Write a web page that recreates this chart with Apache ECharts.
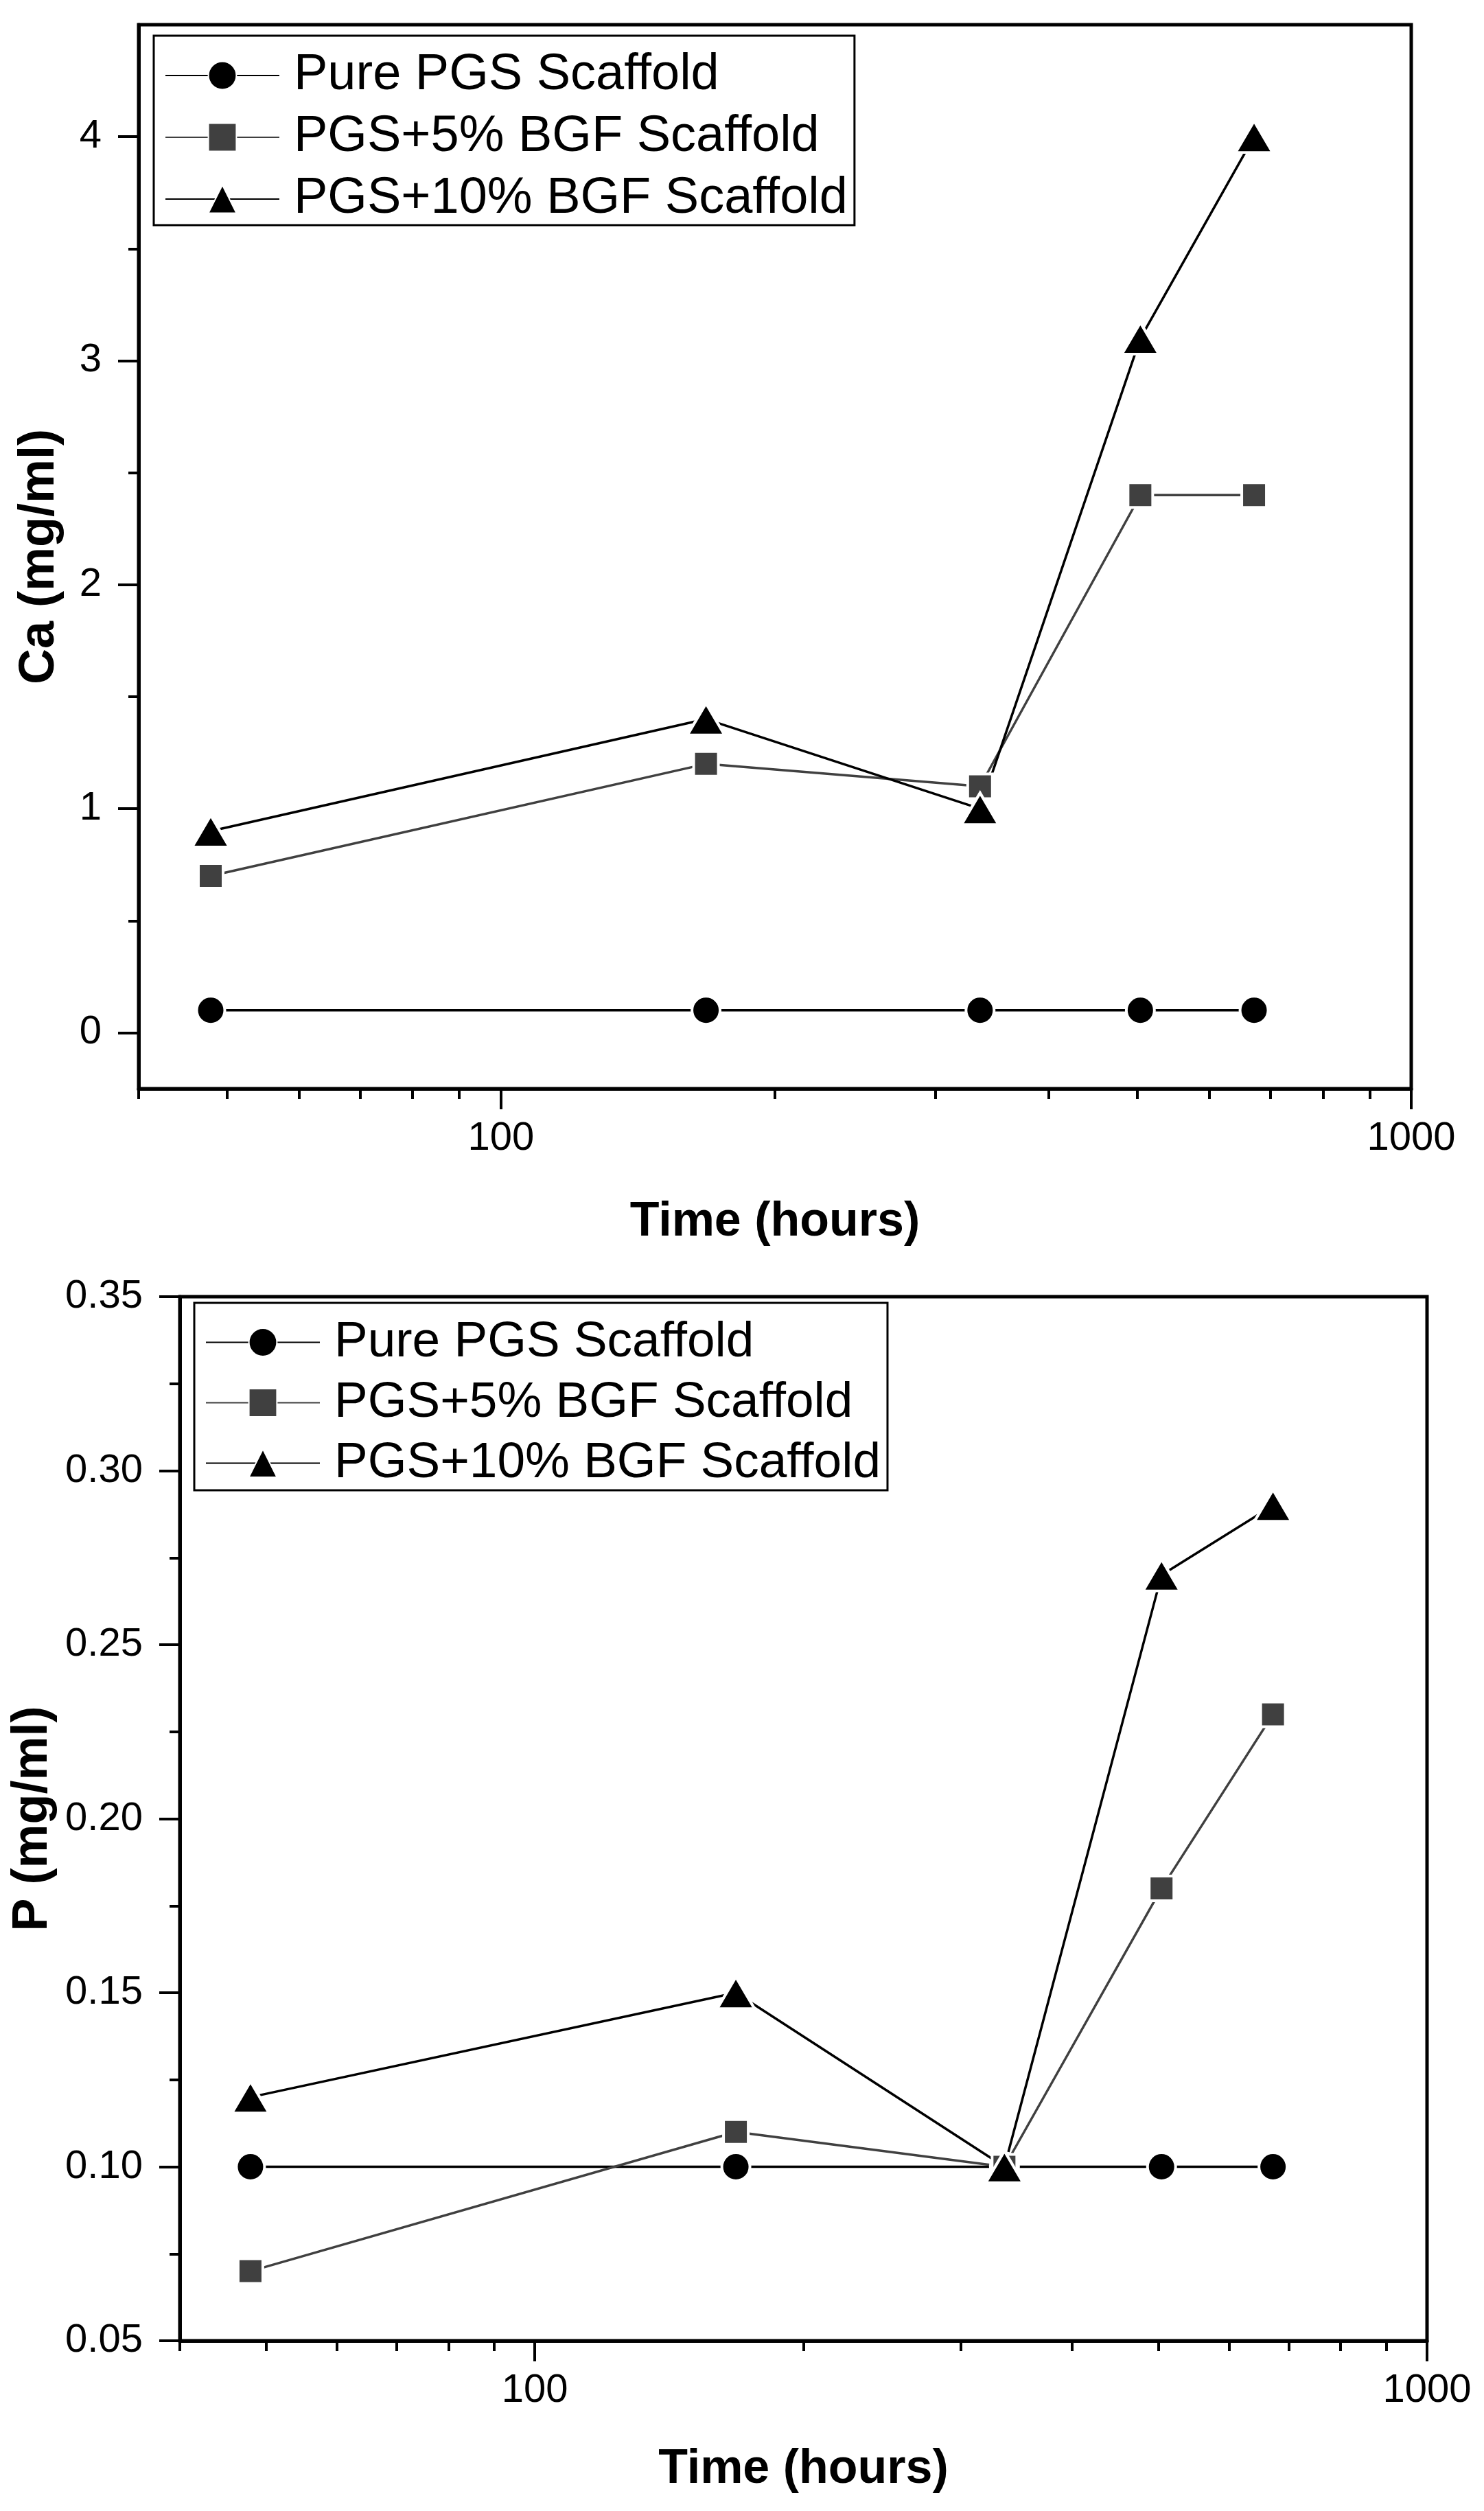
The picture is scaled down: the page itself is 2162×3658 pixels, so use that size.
<!DOCTYPE html>
<html lang="en" style="height: 100%">
<head>
    <meta charset="utf-8"/>
    <title>Ca and P release</title>
    <script type="text/javascript" src="https://cdn.jsdelivr.net/npm/echarts@6/dist/echarts.min.js"></script>
    <style>
        body { margin: 0; background: #fff; }
        #container { width: 2162px; height: 3658px; }
    </style>
</head>
<body>
<div id="container"></div>
<script type="text/javascript">
    // time points (hours)
    var hours = [48, 168, 336, 504, 672];
    var seriesNames = ['Pure PGS Scaffold', 'PGS+5% BGF Scaffold', 'PGS+10% BGF Scaffold'];

    // Ca (mg/ml)
    var caPure = [0.1, 0.1, 0.1, 0.1, 0.1];
    var ca5 = [0.7, 1.2, 1.1, 2.4, 2.4];
    var ca10 = [0.9, 1.4, 1.0, 3.1, 4.0];

    // P (mg/ml)
    var pPure = [0.10, 0.10, 0.10, 0.10, 0.10];
    var p5 = [0.07, 0.11, 0.10, 0.18, 0.23];
    var p10 = [0.12, 0.15, 0.10, 0.27, 0.29];

    // tick values
    var xMajor = [100, 1000];
    var xMinor = [40, 50, 60, 70, 80, 90, 200, 300, 400, 500, 600, 700, 800, 900];
    var caMajor = [0, 1, 2, 3, 4];
    var caMinor = [0.5, 1.5, 2.5, 3.5];

    var FONT = 'Liberation Sans, Arial, sans-serif';
    var GRAY = '#404040';

    function pairs(ys) {
        return hours.map(function (h, i) { return [h, ys[i]]; });
    }

    function xAxes(grid, nameGap) {
        return [{
            type: 'log', logBase: 10, gridIndex: grid, min: 40, max: 1000, position: 'bottom',
            name: 'Time (hours)', nameLocation: 'middle', nameGap: nameGap,
            nameTextStyle: {fontSize: 70, fontWeight: 'bold', fontFamily: FONT, color: '#000'},
            axisLine: {show: true, onZero: false, lineStyle: {color: '#000', width: 5}},
            axisTick: {show: true, length: 30, customValues: xMajor, lineStyle: {color: '#000', width: 4}},
            axisLabel: {
                customValues: xMajor, fontSize: 58, margin: 44, color: '#000', fontFamily: FONT,
                formatter: function (v) { return String(Math.round(v)); }
            },
            splitLine: {show: false}, minorSplitLine: {show: false}
        }, {
            type: 'log', logBase: 10, gridIndex: grid, min: 40, max: 1000, position: 'bottom',
            axisLine: {show: false, onZero: false},
            axisTick: {show: true, length: 15, customValues: xMinor, lineStyle: {color: '#000', width: 4}},
            axisLabel: {show: false},
            splitLine: {show: false}
        }];
    }

    function lineSeries(name, data, xi, yi, symbol, size, color) {
        return {
            name: name, type: 'line', xAxisIndex: xi, yAxisIndex: yi, data: data,
            symbol: symbol, symbolSize: size,
            lineStyle: {color: color, width: 3.5},
            itemStyle: {color: color, borderColor: '#fff', borderWidth: 4},
            emphasis: {disabled: true}
        };
    }

    function legend(left, top, pad, gap, fs) {
        return {
            data: seriesNames, orient: 'vertical', left: left, top: top,
            itemWidth: 166, itemHeight: 51, itemGap: gap, padding: pad,
            borderColor: '#000', borderWidth: 3, selectedMode: false,
            textStyle: {fontSize: fs, lineHeight: 72, fontFamily: FONT, color: '#000', padding: [0, 0, 0, 16]}
        };
    }

    var dom = document.getElementById('container');
    var myChart = echarts.init(dom, null, {renderer: 'canvas'});

    var option = {
        animation: false,
        backgroundColor: '#fff',
        grid: [
            {left: 202, top: 36, width: 1854, height: 1550, show: true, borderColor: '#000', borderWidth: 5, containLabel: false},
            {left: 262, top: 1889, width: 1817, height: 1521, show: true, borderColor: '#000', borderWidth: 5, containLabel: false}
        ],
        legend: [
            legend(224, 52, [21, 10, 1, 16], 16, 74),
            legend(283, 1898, [21, 10, 3, 16], 15, 73)
        ],
        xAxis: xAxes(0, 160).concat(xAxes(1, 153)),
        yAxis: [{
            type: 'value', gridIndex: 0, min: -0.25, max: 4.5, position: 'left',
            name: 'Ca (mg/ml)', nameLocation: 'middle', nameGap: 108,
            nameTextStyle: {fontSize: 72, fontWeight: 'bold', fontFamily: FONT, color: '#000'},
            axisLine: {show: true, lineStyle: {color: '#000', width: 5}},
            axisTick: {show: true, length: 30, customValues: caMajor, lineStyle: {color: '#000', width: 4}},
            axisLabel: {customValues: caMajor, fontSize: 58, margin: 54, color: '#000', fontFamily: FONT},
            splitLine: {show: false}
        }, {
            type: 'value', gridIndex: 0, min: -0.25, max: 4.5, position: 'left',
            axisLine: {show: false},
            axisTick: {show: true, length: 15, customValues: caMinor, lineStyle: {color: '#000', width: 4}},
            axisLabel: {show: false},
            splitLine: {show: false}
        }, {
            type: 'value', gridIndex: 1, min: 0.05, max: 0.35, interval: 0.05, position: 'left',
            name: 'P (mg/ml)', nameLocation: 'middle', nameGap: 177,
            nameTextStyle: {fontSize: 72, fontWeight: 'bold', fontFamily: FONT, color: '#000'},
            axisLine: {show: true, lineStyle: {color: '#000', width: 5}},
            axisTick: {show: true, length: 30, lineStyle: {color: '#000', width: 4}},
            minorTick: {show: true, splitNumber: 2, length: 15, lineStyle: {color: '#000', width: 4}},
            axisLabel: {
                fontSize: 58, margin: 54, color: '#000', fontFamily: FONT,
                formatter: function (v) { return v.toFixed(2); }
            },
            splitLine: {show: false}, minorSplitLine: {show: false}
        }],
        series: [
            lineSeries(seriesNames[0], pairs(caPure), 0, 0, 'circle', 41, '#000'),
            lineSeries(seriesNames[1], pairs(ca5), 0, 0, 'rect', 36, GRAY),
            lineSeries(seriesNames[2], pairs(ca10), 0, 0, 'triangle', [54, 46], '#000'),
            lineSeries(seriesNames[0], pairs(pPure), 2, 2, 'circle', 41, '#000'),
            lineSeries(seriesNames[1], pairs(p5), 2, 2, 'rect', 36, GRAY),
            lineSeries(seriesNames[2], pairs(p10), 2, 2, 'triangle', [54, 46], '#000')
        ]
    };

    if (option && typeof option === 'object') {
        myChart.setOption(option, true);
    }
</script>
</body>
</html>
